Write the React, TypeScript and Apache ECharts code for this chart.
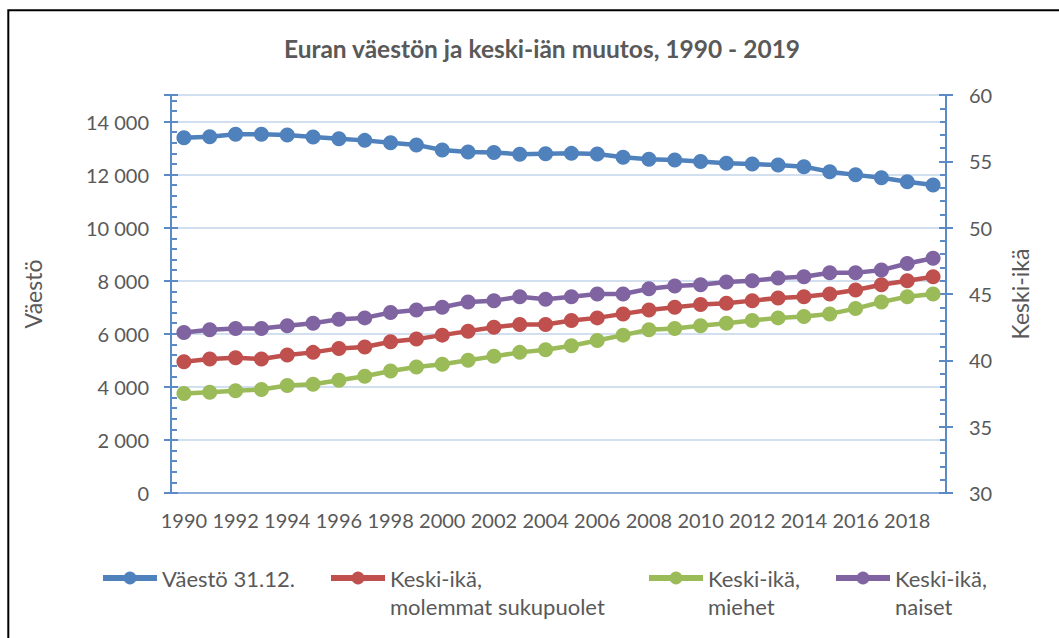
import React, { useEffect, useRef } from "react";
import * as echarts from "echarts";

const years = [
  "1990", "1991", "1992", "1993", "1994", "1995", "1996", "1997", "1998", "1999",
  "2000", "2001", "2002", "2003", "2004", "2005", "2006", "2007", "2008", "2009",
  "2010", "2011", "2012", "2013", "2014", "2015", "2016", "2017", "2018", "2019",
];

const population = [
  13390, 13430, 13520, 13520, 13490, 13420, 13350, 13290, 13200, 13120,
  12930, 12850, 12830, 12770, 12790, 12800, 12780, 12650, 12580, 12550,
  12490, 12430, 12400, 12360, 12300, 12110, 11990, 11880, 11730, 11610,
];

const ageAll = [
  39.9, 40.1, 40.2, 40.1, 40.4, 40.6, 40.9, 41.0, 41.4, 41.6,
  41.9, 42.2, 42.5, 42.7, 42.7, 43.0, 43.2, 43.5, 43.8, 44.0,
  44.2, 44.3, 44.5, 44.7, 44.8, 45.0, 45.3, 45.7, 46.0, 46.3,
];

const ageMen = [
  37.5, 37.6, 37.7, 37.8, 38.1, 38.2, 38.5, 38.8, 39.2, 39.5,
  39.7, 40.0, 40.3, 40.6, 40.8, 41.1, 41.5, 41.9, 42.3, 42.4,
  42.6, 42.8, 43.0, 43.2, 43.3, 43.5, 43.9, 44.4, 44.8, 45.0,
];

const ageWomen = [
  42.1, 42.3, 42.4, 42.4, 42.6, 42.8, 43.1, 43.2, 43.6, 43.8,
  44.0, 44.4, 44.5, 44.8, 44.6, 44.8, 45.0, 45.0, 45.4, 45.6,
  45.7, 45.9, 46.0, 46.2, 46.3, 46.6, 46.6, 46.8, 47.3, 47.7,
];

const seriesNames = [
  "Väestö 31.12.",
  "Keski-ikä, molemmat sukupuolet",
  "Keski-ikä, miehet",
  "Keski-ikä, naiset",
];
const colors = ["#4f81bd", "#c0504d", "#9bbb59", "#8064a2"];

const FONT = "Lato";
const TEXT = "#595959";
const AXIS_BLUE = "#5b8ac6";

export default function App() {
  const ref = useRef<HTMLDivElement>(null);
  useEffect(() => {
    const chart = echarts.init(ref.current as HTMLDivElement, null, { renderer: "svg" });
    const lineSeries = (i: number, data: number[], yAxisIndex: number) => ({
      name: seriesNames[i],
      type: "line",
      data,
      yAxisIndex,
      symbol: "circle",
      symbolSize: 15,
      lineStyle: { width: 4.5, color: colors[i] },
      itemStyle: { color: colors[i] },
      z: 3 + i,
    });
    const legendBase = (i: number, left: number, top: number, twoLine: boolean) => ({
      data: [seriesNames[i]],
      left,
      top,
      padding: 0,
      itemWidth: 54,
      itemHeight: 16,
      lineStyle: { width: 6 },
      formatter: (n: string) => (twoLine ? "\n" + n.replace(", ", ",\n") : n),
      textStyle: {
        fontFamily: FONT,
        fontSize: 22,
        color: TEXT,
        lineHeight: 28,
      },
    });
    chart.setOption({
      animation: false,
      backgroundColor: "#ffffff",
      textStyle: { fontFamily: FONT },
      title: {
        text: "Euran väestön ja keski-iän muutos, 1990 - 2019",
        left: 537,
        top: 31,
        textAlign: "center",
        textStyle: { fontFamily: FONT, fontSize: 24.5, fontWeight: "bold", color: TEXT },
      },
      graphic: [
        {
          type: "rect",
          shape: { x: 8.3, y: 10.3, width: 1200, height: 800 },
          style: { fill: "none", stroke: "#000000", lineWidth: 2 },
          silent: true,
        },
      ],
      legend: [
        legendBase(0, 100, 564, false),
        legendBase(1, 328, 536, true),
        legendBase(2, 646, 536, true),
        legendBase(3, 833, 536, true),
      ],
      grid: { left: 171, right: 113, top: 95, bottom: 145, containLabel: false },
      xAxis: [
        {
          type: "category",
          data: years,
          position: "bottom",
          axisLine: { lineStyle: { color: "#d9d9d9", width: 2 } },
          axisTick: { show: false },
          axisLabel: { interval: 1, color: TEXT, fontSize: 20, fontFamily: FONT, margin: 17 },
          splitLine: { show: false },
        },
        {
          type: "category",
          data: years,
          position: "top",
          axisLine: { lineStyle: { color: "#8eaedb", width: 2 } },
          axisTick: { show: false },
          axisLabel: { show: false },
          splitLine: { show: false },
        },
      ],
      yAxis: [
        {
          type: "value",
          position: "left",
          min: 0,
          max: 15000,
          interval: 2000,
          name: "Väestö",
          nameLocation: "middle",
          nameRotate: 90,
          nameGap: 127,
          nameTextStyle: { fontFamily: FONT, fontSize: 23, color: TEXT },
          axisLine: { show: true, lineStyle: { color: AXIS_BLUE, width: 2 } },
          axisTick: { show: false },
          axisLabel: {
            color: TEXT,
            fontSize: 20,
            fontFamily: FONT,
            margin: 22,
            showMaxLabel: false,
            formatter: (v: number) => String(v).replace(/\B(?=(\d{3})+(?!\d))/g, " "),
          },
          splitLine: { show: true, lineStyle: { color: "#c3d5ea", width: 1.5 } },
        },
        {
          type: "value",
          position: "right",
          min: 30,
          max: 60,
          interval: 5,
          name: "Keski-ikä",
          nameLocation: "middle",
          nameRotate: 90,
          nameGap: 62,
          nameTextStyle: { fontFamily: FONT, fontSize: 23, color: TEXT },
          axisLine: { show: true, lineStyle: { color: AXIS_BLUE, width: 2 } },
          axisTick: { show: false, inside: true },
          minorTick: { show: true, splitNumber: 5, length: 6, lineStyle: { color: AXIS_BLUE, width: 2 } },
          axisLabel: { color: TEXT, fontSize: 20, fontFamily: FONT, margin: 23 },
          splitLine: { show: false },
        },
        {
          type: "value",
          position: "left",
          offset: -7,
          min: 0,
          max: 15000,
          interval: 2000,
          axisLine: { show: false },
          axisTick: { show: true, length: 14, lineStyle: { color: AXIS_BLUE, width: 2 } },
          axisLabel: { show: false, showMaxLabel: false },
          splitLine: { show: false },
        },
        {
          type: "value",
          position: "left",
          min: 0,
          max: 15000,
          interval: 400,
          axisLine: { show: false },
          axisTick: { show: true, inside: true, length: 6, lineStyle: { color: AXIS_BLUE, width: 2 } },
          axisLabel: { show: false },
          splitLine: { show: false },
        },
        {
          type: "value",
          position: "right",
          offset: -7,
          min: 30,
          max: 60,
          interval: 5,
          axisLine: { show: false },
          axisTick: { show: true, length: 14, lineStyle: { color: AXIS_BLUE, width: 2 } },
          axisLabel: { show: false },
          splitLine: { show: false },
        },
      ],
      series: [
        lineSeries(0, population, 0),
        lineSeries(1, ageAll, 1),
        lineSeries(2, ageMen, 1),
        lineSeries(3, ageWomen, 1),
      ],
    });
    return () => chart.dispose();
  }, []);
  return (
    <div
      ref={ref}
      style={{ position: "fixed", left: 0, top: 0, width: 1059, height: 638, background: "#ffffff" }}
    />
  );
}
